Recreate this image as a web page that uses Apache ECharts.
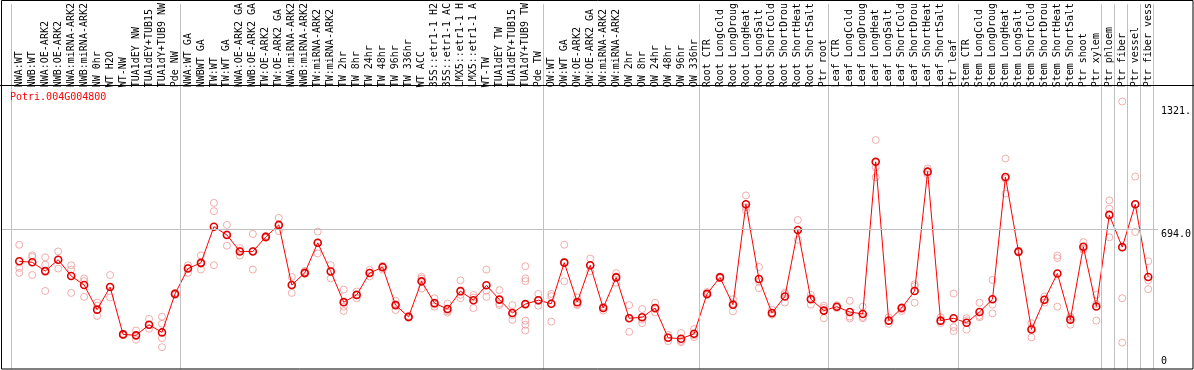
<!DOCTYPE html>
<html>
<head>
<meta charset="utf-8">
<script src="https://cdn.jsdelivr.net/npm/echarts@6/dist/echarts.min.js"></script>
<style>
  html, body { margin: 0; padding: 0; background: #fff; }
  #chart { width: 1194px; height: 370px; }
</style>
</head>
<body>
<div id="chart"></div>
<script>
const geneName = "Potri.004G004800";

const categories = [
  "NWA:WT", "NWB:WT", "NWA:OE-ARK2", "NWB:OE-ARK2", "NWA:miRNA-ARK2", "NWB:miRNA-ARK2",
  "NW 0hr", "WT H2O", "WT-NW", "TUA1dEY NW", "TUA1dEY+TUB15", "TUA1dY+TUB9 NW", "Pde NW",
  "NWA:WT GA", "NWBWT GA", "TW:WT", "TW:WT GA", "NWA:OE-ARK2 GA", "NWB:OE-ARK2 GA",
  "TW:OE-ARK2", "TW:OE-ARK2 GA", "NWA:miRNA-ARK2", "NWB:miRNA-ARK2", "TW:miRNA-ARK2",
  "TW:miRNA-ARK2", "TW 2hr", "TW 8hr", "TW 24hr", "TW 48hr", "TW 96hr", "TW 336hr",
  "WT ACC", "35S::etr1-1 H2", "35S::etr1-1 AC", "LMX5::etr1-1 H", "LMX5::etr1-1 A",
  "WT-TW", "TUA1dEY TW", "TUA1dEY+TUB15", "TUA1dY+TUB9 TW", "Pde TW",
  "OW:WT", "OW:WT GA", "OW:OE-ARK2", "OW:OE-ARK2 GA", "OW:miRNA-ARK2", "OW:miRNA-ARK2",
  "OW 2hr", "OW 8hr", "OW 24hr", "OW 48hr", "OW 96hr", "OW 336hr",
  "Root CTR", "Root LongCold", "Root LongDroug", "Root LongHeat", "Root LongSalt",
  "Root ShortCold", "Root ShortDrou", "Root ShortHeat", "Root ShortSalt", "Ptr root",
  "Leaf CTR", "Leaf LongCold", "Leaf LongDroug", "Leaf LongHeat", "Leaf LongSalt",
  "Leaf ShortCold", "Leaf ShortDrou", "Leaf ShortHeat", "Leaf ShortSalt", "Ptr leaf",
  "Stem CTR", "Stem LongCold", "Stem LongDroug", "Stem LongHeat", "Stem LongSalt",
  "Stem ShortCold", "Stem ShortDrou", "Stem ShortHeat", "Stem ShortSalt", "Ptr shoot",
  "Ptr xylem", "Ptr phloem", "Ptr fiber", "Ptr vessel", "Ptr fiber vess"
];

// mean expression per sample (red line)
const meanValues = [
  533, 528, 483, 541, 458, 412, 287, 402, 161, 156, 210, 171, 367,
  496, 525, 709, 667, 583, 583, 657, 718, 412, 474, 627, 481, 325, 362, 473, 503,
  310, 250, 431, 320, 290, 381, 335, 411, 338, 270, 315, 335,
  317, 526, 325, 513, 295, 451, 243, 248, 295, 144, 139, 164,
  367, 451, 312, 823, 443, 270, 354, 692, 340, 282,
  302, 275, 265, 1039, 231, 295, 382, 989, 231, 243,
  220, 275, 340, 962, 582, 186, 337, 471, 236, 607, 303,
  769, 605, 823, 453
];

// single replicates (pink circles)
const replicateValues = [
  [617, 499, 474], [563, 555, 463], [553, 516, 382], [583, 541, 496], [513, 491, 372],
  [446, 432, 352], [323, 307, 255], [463, 402, 349], [165, 161, 157], [181, 156, 134],
  [240, 210, 190], [251, 215, 142, 96], [372, 367, 362],
  [513, 500, 474], [563, 520, 491], [830, 788, 513], [718, 670, 612], [600, 587, 562],
  [672, 586, 491], [662, 657, 652], [754, 713, 687], [453, 412, 372], [484, 470, 469],
  [684, 625, 573], [513, 484, 446], [389, 302, 280], [379, 362, 345], [489, 474, 456],
  [509, 503, 491], [332, 313, 285], [255, 250, 245], [454, 445, 394], [345, 313, 302],
  [318, 280, 272], [436, 362, 345], [362, 348, 295], [491, 384, 352], [386, 318, 310],
  [310, 260, 235], [508, 446, 432, 231, 210, 181], [367, 331, 307],
  [367, 355, 226], [617, 530, 431], [349, 315, 310], [547, 511, 481], [302, 300, 282],
  [473, 456, 424], [310, 245, 174], [290, 236, 218], [322, 290, 273], [159, 146, 127],
  [168, 128, 121], [188, 157, 147],
  [377, 362, 362], [456, 451, 446], [340, 318, 278], [868, 808, 793], [504, 430, 396],
  [287, 262, 262], [373, 366, 323], [743, 692, 642], [362, 346, 312], [307, 296, 243],
  [310, 301, 295], [332, 251, 242], [302, 250, 243], [1150, 1011, 960], [248, 230, 215],
  [300, 290, 280], [416, 407, 322], [1006, 986, 975], [248, 227, 218], [369, 198, 178],
  [243, 232, 185], [322, 255, 248], [438, 313, 268], [1056, 953, 877], [587, 582, 577],
  [218, 194, 146], [354, 335, 322], [562, 549, 302], [251, 247, 210], [630, 599, 592],
  [362, 316, 231], [843, 801, 655], [1346, 345, 119], [964, 823, 682], [533, 436, 391]
];

// index of first sample in every block (last = end)
const groupStarts = [0, 13, 41, 53, 63, 73, 84, 85, 86, 87, 88];

const yTickValues = [0, 694, 1321];
const yTickLabels = ["0", "694.0", "1321."];

const mono = "DejaVu Sans Mono";

const chart = echarts.init(document.getElementById("chart"));

let meanPoints = meanValues.map((v, i) => [i, v]);
let repPoints = [];
replicateValues.forEach((reps, i) => {
  reps.forEach(v => repPoints.push([i, v]));
});

function tickLabel(v) {
  const k = yTickValues.indexOf(v);
  return k >= 0 ? yTickLabels[k] : "";
}

chart.setOption({
  animation: false,
  backgroundColor: "#fff",
  title: {
    text: geneName,
    left: 5,
    top: 87,
    textStyle: { color: "#f00", fontSize: 10, fontFamily: mono, fontWeight: "normal" }
  },
  grid: { left: 1, right: 34, top: 0, bottom: 1 },
  xAxis: {
    type: "value",
    position: "top",
    offset: -85,
    min: -1.408,
    max: 87.746,
    axisLine: { show: false },
    axisTick: { show: false },
    splitLine: { show: false },
    axisLabel: {
      customValues: categories.map((c, i) => i),
      rotate: 90,
      margin: 2,
      color: "#000",
      fontSize: 10,
      fontFamily: mono,
      formatter: v => categories[v] || ""
    }
  },
  yAxis: [
    {
      type: "value",
      position: "right",
      min: -15.1,
      max: 1840.6,
      axisLine: { show: false },
      axisTick: { show: false },
      splitLine: { show: false },
      axisLabel: {
        customValues: [694, 1321],
        margin: 3,
        verticalAlign: "top",
        color: "#000",
        fontSize: 10,
        fontFamily: mono,
        formatter: tickLabel
      }
    },
    {
      type: "value",
      position: "right",
      min: -15.1,
      max: 1840.6,
      axisLine: { show: false },
      axisTick: { show: false },
      splitLine: { show: false },
      axisLabel: {
        customValues: [0],
        margin: 3,
        verticalAlign: "bottom",
        color: "#000",
        fontSize: 10,
        fontFamily: mono,
        formatter: tickLabel
      }
    }
  ],
  graphic: [
    // frame around label strip and plot
    {
      type: "rect",
      shape: { x: 1.5, y: 0.5, width: 1191.5, height: 368.5 },
      style: { fill: "none", stroke: "#000", lineWidth: 1 },
      z: 10
    },
    {
      type: "line",
      shape: { x1: 0, y1: 85.5, x2: 1194, y2: 85.5 },
      style: { stroke: "#000", lineWidth: 1 },
      z: 10
    }
  ],
  series: [
    {
      name: "replicates",
      type: "scatter",
      data: repPoints,
      symbol: "circle",
      symbolSize: 7,
      itemStyle: { color: "rgba(0,0,0,0)", borderColor: "#ec9898", borderWidth: 1 },
      z: 2,
      silent: true,
      markLine: {
        silent: true,
        symbol: "none",
        label: { show: false },
        lineStyle: { color: "#c0c0c0", width: 1, type: "solid" },
        data: groupStarts.map(s => ({ xAxis: s - 0.62 })).concat([{ yAxis: 694 }])
      }
    },
    {
      name: "mean",
      type: "line",
      data: meanPoints,
      symbol: "circle",
      symbolSize: 7,
      lineStyle: { color: "#f00", width: 1 },
      itemStyle: { color: "rgba(0,0,0,0)", borderColor: "#e00000", borderWidth: 1.6 },
      z: 3,
      silent: true
    }
  ]
});
</script>
</body>
</html>
